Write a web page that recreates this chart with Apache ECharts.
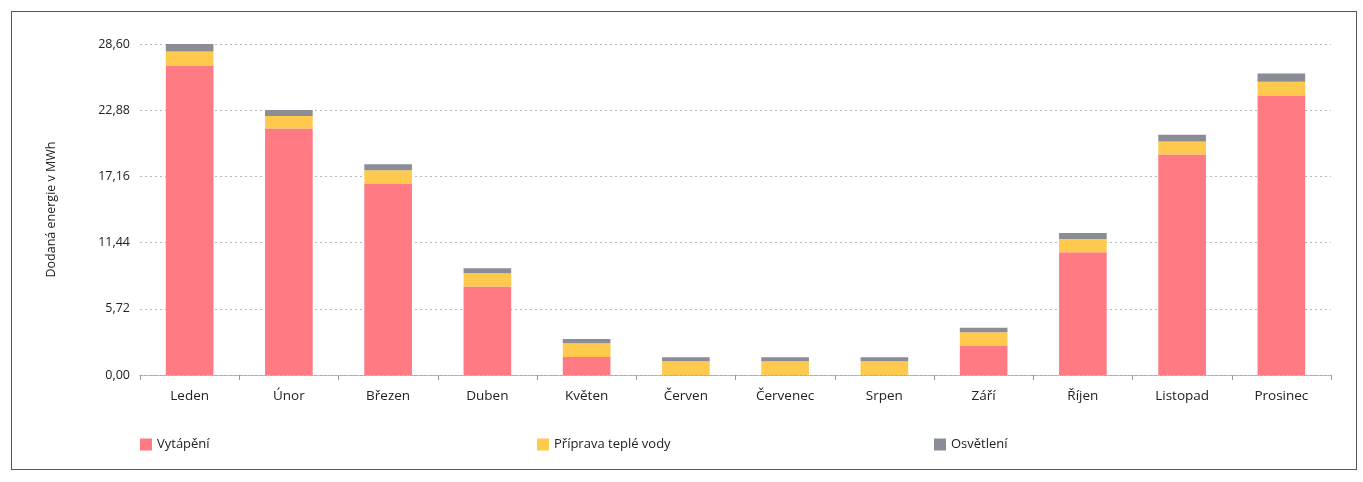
<!DOCTYPE html>
<html><head><meta charset="utf-8">
<script src="https://cdn.jsdelivr.net/npm/echarts@6/dist/echarts.min.js"></script>
<style>
html,body{margin:0;padding:0;background:#fff;}
#frame{position:absolute;left:11px;top:11px;width:1346px;height:459px;border:1px solid #555;box-sizing:border-box;}
#c{position:absolute;left:0;top:0;width:1363px;height:482px;}
</style></head>
<body>
<div id="frame"></div>
<div id="c"></div>
<script>
const categories = ['Leden','Únor','Březen','Duben','Květen','Červen','Červenec','Srpen','Září','Říjen','Listopad','Prosinec'];
const vytapeni = [26.75, 21.3, 16.5, 7.65, 1.55, 0, 0, 0, 2.5, 10.6, 19.05, 24.15];
const pripravaVody = [1.2, 1.07, 1.2, 1.15, 1.2, 1.18, 1.18, 1.18, 1.2, 1.16, 1.13, 1.18];
const osvetleni = [0.65, 0.52, 0.5, 0.42, 0.36, 0.36, 0.36, 0.36, 0.38, 0.52, 0.58, 0.72];
const yTicks = [0, 5.72, 11.44, 17.16, 22.88, 28.60];
const seriesNames = ['Vytápění', 'Příprava teplé vody', 'Osvětlení'];

const chart = echarts.init(document.getElementById('c'));
const font = '"Open Sans", "Noto Sans", sans-serif';
const legendBase = {top: 433, itemWidth: 12, itemHeight: 12, itemGap: 0, icon: 'rect',
  textStyle: {fontFamily: font, fontSize: 13, color: '#222', padding: [0,0,0,0]}};
chart.setOption({
  animation: false,
  grid: {left: 140, right: 32, top: 44, bottom: 107},
  legend: [
    Object.assign({}, legendBase, {left: 135, data: [seriesNames[0]]}),
    Object.assign({}, legendBase, {left: 532, data: [seriesNames[1]]}),
    Object.assign({}, legendBase, {left: 929, data: [seriesNames[2]]})
  ],
  xAxis: {
    type: 'category', data: categories,
    axisLine: {lineStyle: {color: '#aaa', type: 'dotted'}},
    axisTick: {show: true, length: 5, lineStyle: {color: '#999'}},
    axisLabel: {fontFamily: font, fontSize: 13.5, color: '#222', margin: 14}
  },
  yAxis: {
    type: 'value', min: 0, max: yTicks[yTicks.length-1], interval: yTicks[1],
    name: 'Dodaná energie v MWh', nameLocation: 'middle', nameGap: 82, nameRotate: 90,
    nameTextStyle: {fontFamily: font, fontSize: 12.5, color: '#222'},
    axisLine: {show: false}, axisTick: {show: false},
    axisLabel: {fontFamily: font, fontSize: 12.5, color: '#222', margin: 10,
      formatter: v => v.toFixed(2).replace('.', ',')},
    splitLine: {lineStyle: {color: '#b8b8b8', type: [2, 3], width: 1}}
  },
  series: [
    {name: seriesNames[0], type: 'bar', stack: 'e', data: vytapeni, barWidth: '48%', itemStyle: {color: '#FF7A82'}},
    {name: seriesNames[1], type: 'bar', stack: 'e', data: pripravaVody, itemStyle: {color: '#FFC94D'}},
    {name: seriesNames[2], type: 'bar', stack: 'e', data: osvetleni, itemStyle: {color: '#8A8C96'}}
  ]
});
</script>
</body></html>
